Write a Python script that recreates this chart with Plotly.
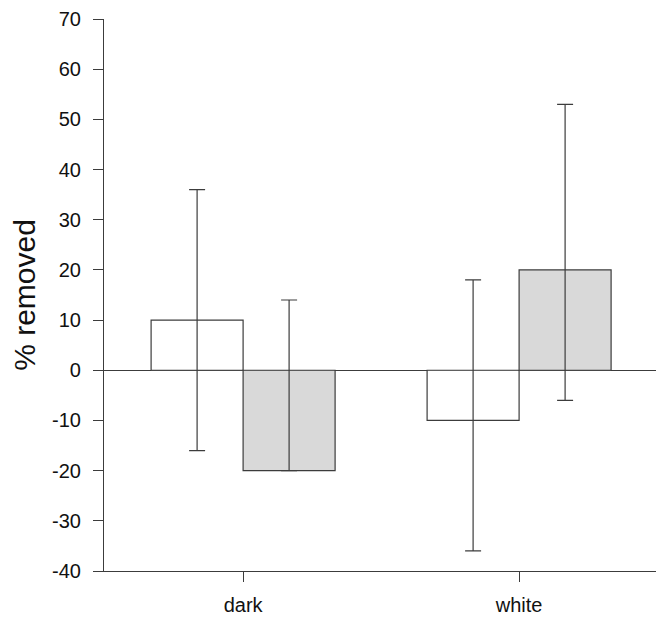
import plotly.graph_objects as go

categories = ["dark", "white"]
open_vals = [10, -10]
open_err_plus = [26, 28]
open_err_minus = [26, 26]
grey_vals = [-20, 20]
grey_err_plus = [34, 33]
grey_err_minus = [0, 26]
y_ticks = [-40, -30, -20, -10, 0, 10, 20, 30, 40, 50, 60, 70]
y_tick_text = ["-40", "-30", "-20", "-10", "0", "10", "20", "30", "40", "50", "60", "70"]

line_col = "#3c3c3c"
font = dict(family="Liberation Sans, Arial, sans-serif", color="#111111")

fig = go.Figure()
fig.add_trace(go.Bar(
    x=categories, y=open_vals,
    marker=dict(color="white", line=dict(color=line_col, width=1.2)),
    error_y=dict(type="data", symmetric=False, array=open_err_plus,
                 arrayminus=open_err_minus, color=line_col, thickness=1.2, width=8),
))
fig.add_trace(go.Bar(
    x=categories, y=grey_vals,
    marker=dict(color="#d9d9d9", line=dict(color=line_col, width=1.2)),
    error_y=dict(type="data", symmetric=False, array=grey_err_plus,
                 arrayminus=grey_err_minus, color=line_col, thickness=1.2, width=8),
))

# page body has an 8px margin, so the figure is sized to fit the window
fig.update_layout(
    width=656, height=611,
    margin=dict(l=96, r=0, t=11, b=48),
    plot_bgcolor="white", paper_bgcolor="white",
    barmode="group", bargap=1/3, bargroupgap=0,
    showlegend=False,
    font=font,
)
fig.update_xaxes(
    range=[-0.504, 1.525], showline=True, linecolor=line_col, linewidth=1.2,
    ticks="outside", ticklen=10, tickcolor=line_col, tickwidth=1.2,
    tickfont=dict(size=20), showgrid=False, zeroline=False,
    ticklabelstandoff=6,
)
fig.update_yaxes(
    range=[-40, 70], tickvals=y_ticks, ticktext=y_tick_text,
    showline=True, linecolor=line_col, linewidth=1.2,
    ticks="outside", ticklen=10, tickcolor=line_col, tickwidth=1.2,
    tickfont=dict(size=20), showgrid=False, ticklabelstandoff=8,
    ticklabeloverflow="allow", automargin=False,
    zeroline=True, zerolinecolor=line_col, zerolinewidth=1.2,
    title=dict(text="% removed", font=dict(size=30), standoff=20),
)

fig.write_html("out.html")
